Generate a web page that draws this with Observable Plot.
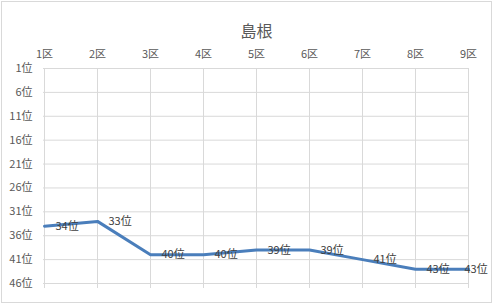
<!DOCTYPE html>
<html><head><meta charset="utf-8">
<script src="https://cdn.jsdelivr.net/npm/d3@7"></script>
<script src="https://cdn.jsdelivr.net/npm/@observablehq/plot@0.6"></script>
<style>
html,body{margin:0;padding:0;background:#fff;}
#wrap{position:relative;width:493px;height:304px;}
#border{position:absolute;left:1px;top:1px;width:489px;height:300px;border:1px solid #d9d9d9;pointer-events:none;}
</style>
</head><body>
<div id="wrap"><div id="border"></div></div>
<script>
const title = "島根";
const districts = ["1区","2区","3区","4区","5区","6区","7区","8区","9区"];
const ranks = [34, 33, 40, 40, 39, 39, 41, 43, 43];
const yTicks = [1, 6, 11, 16, 21, 26, 31, 36, 41, 46];

const data = districts.map((d, i) => ({district: d, rank: ranks[i], last: i === districts.length - 1}));
const font = "'Noto Sans CJK JP', 'Noto Sans', sans-serif";
const grey = "#595959";
const grid = "#d9d9d9";

const chart = Plot.plot({
  width: 493,
  height: 304,
  marginTop: 68,
  marginBottom: 21,
  marginLeft: 43,
  marginRight: 24,
  style: {fontFamily: font, fontSize: "11px", color: grey, background: "transparent"},
  x: {type: "point", domain: districts, padding: 0, label: null},
  y: {domain: [1, 46], reverse: true, label: null},
  marks: [
    Plot.ruleY(yTicks, {stroke: grid, strokeOpacity: 1}),
    Plot.ruleX(districts, {stroke: grid, strokeOpacity: 1}),
    Plot.axisX({anchor: "bottom", tickSize: 5, tickFormat: () => "", stroke: grid, strokeOpacity: 1}),
    Plot.axisX({anchor: "top", tickSize: 0, tickPadding: 11, fill: grey, label: null}),
    Plot.axisY({ticks: yTicks, tickSize: 0, tickPadding: 11, tickFormat: d => d + "位", fill: grey, label: null}),
    Plot.line(data, {x: "district", y: "rank", stroke: "#4a7ebb", strokeWidth: 3, curve: "linear"}),
    Plot.text(data.filter(d => !d.last), {x: "district", y: "rank", text: d => d.rank + "位", textAnchor: "start", dx: 11, fill: "#404040", fontSize: 11}),
    Plot.text(data.filter(d => d.last), {x: "district", y: "rank", text: d => d.rank + "位", textAnchor: "start", dx: -4, fill: "#404040", fontSize: 11}),
    Plot.text([title], {frameAnchor: "top", dy: -43, fontSize: 16, fill: grey})
  ]
});
document.getElementById("wrap").appendChild(chart);
chart.style.position = "absolute";
chart.style.left = "0";
chart.style.top = "0";
</script>
</body></html>
